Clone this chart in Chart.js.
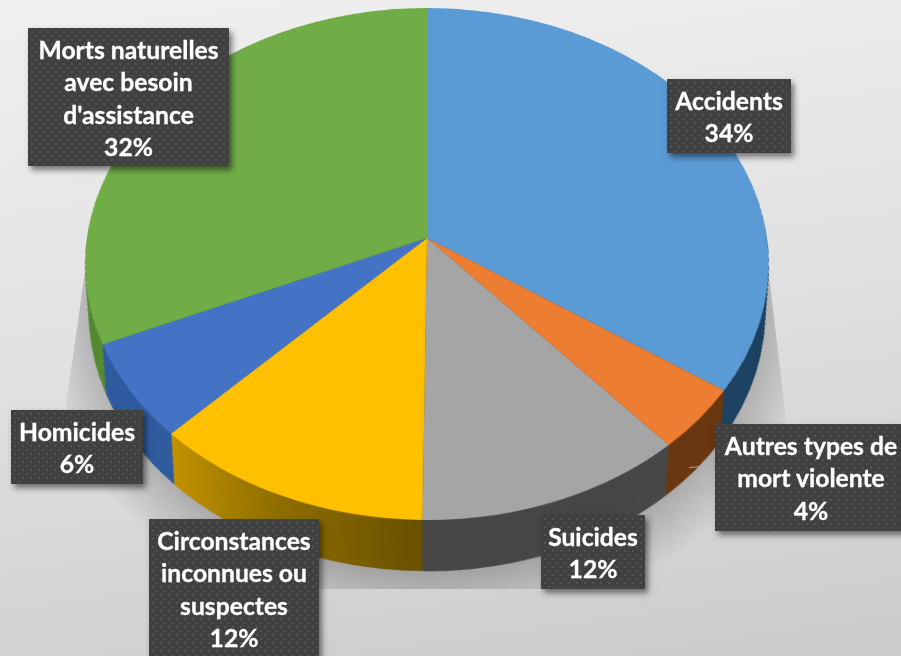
<!DOCTYPE html>
<html lang="fr">
<head>
<meta charset="utf-8">
<title>Causes de décès</title>
<script src="https://cdn.jsdelivr.net/npm/chart.js@4"></script>
<style>
html, body { margin: 0; padding: 0; width: 901px; height: 656px; overflow: hidden; }
body {
    position: relative;
    background: linear-gradient(172deg, #f0f0f0 0%, #e0e0e0 50%, #cbcbcb 100%);
    font-family: Lato, "Open Sans", sans-serif;
}
#shadow {
    position: absolute; left: 0; top: 0; width: 901px; height: 656px;
    background: radial-gradient(ellipse 400px 340px at 427px 290px, rgba(0,0,0,.27) 0%, rgba(0,0,0,.27) 80%, rgba(0,0,0,.16) 88%, rgba(0,0,0,0) 100%);
    clip-path: polygon(88px 250px, 766px 250px, 806px 589px, 40px 589px);
}
#pieChart { position: absolute; left: 0; top: 0; transform-origin: 0 0; }
#leader {
    position: absolute; left: 689px; top: 466px; width: 27px; height: 1px;
    background: #a8a8a8; transform: rotate(-4deg);
}
.tag {
    position: absolute; box-sizing: border-box;
    color: #fff; font-weight: 700; font-size: 24.7px; line-height: 32.5px; text-align: center;
    padding-top: 5.5px; white-space: pre;
    -webkit-text-stroke: 0.3px #fff;
    background-color: #404040;
    background-image:
        radial-gradient(circle at center, #545454 0, #545454 1px, transparent 1.4px),
        radial-gradient(circle at center, #4e4e4e 0, #4e4e4e 1px, transparent 1.4px);
    background-size: 8px 8px;
    background-position: 0 0, 4px 4px;
    box-shadow: 3px 4px 6px rgba(0,0,0,.5);
}
</style>
</head>
<body>
<div id="shadow"></div>
<canvas id="pieChart" width="800" height="800"></canvas>
<div id="leader"></div>
<script>
const categories = [
    'Accidents',
    'Autres types de\nmort violente',
    'Suicides',
    'Circonstances\ninconnues ou\nsuspectes',
    'Homicides',
    "Morts naturelles\navec besoin\nd'assistance",
];
const sliceValues = [34.6, 4, 11.6, 12.1, 6.1, 31.6];
const percentLabels = ['34%', '4%', '12%', '12%', '6%', '32%'];

const topColors = ['#5b9bd5', '#ed7d31', '#a5a5a5', '#ffc000', '#4472c4', '#70ad47'];

// left, top, width, height of the label boxes
const tagBoxes = [
    [667, 79, 124, 74],
    [715, 424, 192, 107],
    [541, 515, 104, 74],
    [149, 519, 170, 140],
    [11, 410, 132, 74],
    [28, 28, 201, 138],
];

// perspective of the pie disc, measured on the picture
const DISC = { cx: 400, cy: 400, r: 340, apexX: 427, apexY: 238, a: 340, b: 253.4, k: 0.1016 };
// lower rim of the pie: extra offset and shrink, in radius units
const DEPTH = { offset: 0.19, shrink: 0.97, layers: 70 };

function discMatrix(d) {
    const h32 = -d.k / d.r;
    const h33 = 1 + d.k * d.cy / d.r;
    const h11 = d.a / d.r;
    const h12 = d.apexX * h32;
    const h13 = d.apexX * h33 - d.a * d.cx / d.r;
    const h22 = d.apexY * h32 + d.b / d.r;
    const h23 = d.apexY * h33 - d.b * d.cy / d.r;
    return `matrix3d(${h11},0,0,0, ${h12},${h22},0,${h32}, 0,0,1,0, ${h13},${h23},0,${h33})`;
}

function sideFill(ctx, index) {
    const grad = ctx.createLinearGradient(DISC.cx - DISC.r, 0, DISC.cx + DISC.r, 0);
    if (index === 3) {
        grad.addColorStop(0.13, '#c89600');
        grad.addColorStop(0.3, '#8f6e00');
        grad.addColorStop(0.48, '#6b5200');
        return grad;
    }
    return ['#1f4363', '#6a3810', '#474747', '#000', '#2f5c9f', '#568a34'][index];
}

// side wall: the pie's own arcs drawn again, from the lower rim up to the top face
const sideWall = {
    id: 'sideWall',
    beforeDatasetsDraw(chart) {
        const ctx = chart.ctx;
        const arcs = chart.getDatasetMeta(0).data;
        const fills = arcs.map((_, i) => sideFill(ctx, i));
        for (let n = DEPTH.layers; n > 0; n--) {
            const t = n / DEPTH.layers;
            const s = 1 + (DEPTH.shrink - 1) * t;
            ctx.save();
            ctx.translate(DISC.cx, DISC.cy + DEPTH.offset * DISC.r * t);
            ctx.scale(s, s);
            ctx.translate(-DISC.cx, -DISC.cy);
            arcs.forEach((arc, i) => {
                const original = arc.options;
                arc.options = Object.assign(Object.create(original), { backgroundColor: fills[i] });
                arc.draw(ctx);
                arc.options = original;
            });
            ctx.restore();
        }
    },
};

const canvas = document.getElementById('pieChart');
canvas.style.transform = discMatrix(DISC);

new Chart(canvas, {
    type: 'pie',
    data: {
        labels: categories,
        datasets: [{
            data: sliceValues,
            backgroundColor: topColors,
            borderWidth: 0,
        }],
    },
    options: {
        responsive: false,
        animation: false,
        layout: { padding: 60 },
        plugins: { legend: { display: false }, tooltip: { enabled: false } },
    },
    plugins: [sideWall],
});

categories.forEach((name, i) => {
    const box = tagBoxes[i];
    const tag = document.createElement('div');
    tag.className = 'tag';
    tag.style.left = box[0] + 'px';
    tag.style.top = box[1] + 'px';
    tag.style.width = box[2] + 'px';
    tag.style.height = box[3] + 'px';
    tag.textContent = name + '\n' + percentLabels[i];
    document.body.appendChild(tag);
});
</script>
</body>
</html>
